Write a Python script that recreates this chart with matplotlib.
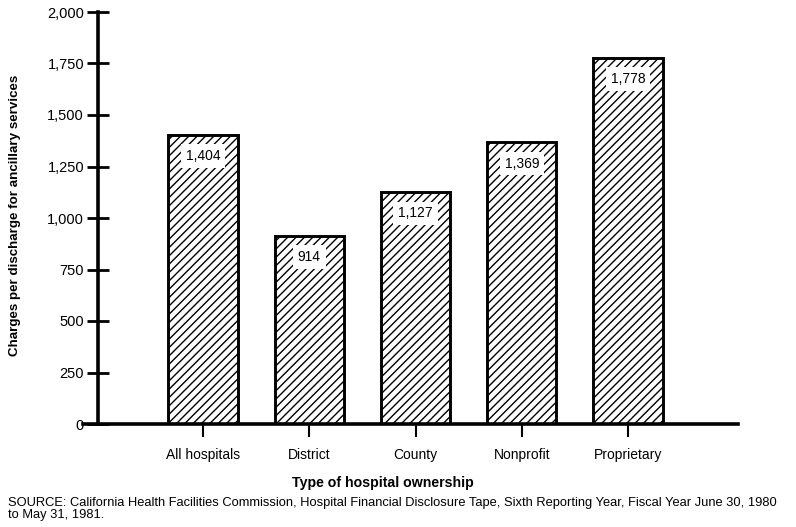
import matplotlib
matplotlib.use("Agg")
import matplotlib.pyplot as plt

categories = ["All hospitals", "District", "County", "Nonprofit", "Proprietary"]
values = [1404, 914, 1127, 1369, 1778]
value_labels = ["1,404", "914", "1,127", "1,369", "1,778"]
yticks = [0, 250, 500, 750, 1000, 1250, 1500, 1750, 2000]
ytick_labels = ["0", "250", "500", "750", "1,000", "1,250", "1,500", "1,750", "2,000"]

plt.rcParams['font.family'] = ['Liberation Sans', 'DejaVu Sans']
plt.rcParams['hatch.linewidth'] = 1.0

W, H = 796, 527
fig = plt.figure(figsize=(W / 100, H / 100), dpi=100)

# pixel geometry
ax_left_px, ax_right_px = 83, 738
y0_px, y2000_px = 424, 12
spacing = 106.25
c0 = 203
xl = 0 - (c0 - ax_left_px) / spacing
xr = 4 + (ax_right_px - (c0 + 4 * spacing)) / spacing
yaxis_data_x = 0 - (c0 - 98) / spacing

ax = fig.add_axes([ax_left_px / W, (H - y0_px) / H,
                   (ax_right_px - ax_left_px) / W, (y0_px - y2000_px) / H])
x = list(range(len(categories)))
ax.bar(x, values, width=0.65, color='white', edgecolor='black',
       linewidth=2.1, hatch='////', zorder=2)
ax.set_xlim(xl, xr)
ax.set_ylim(0, 2000)

for xi, v, lab in zip(x, values, value_labels):
    ax.annotate(lab, xy=(xi, v), xytext=(0, -15.5), textcoords='offset points',
                ha='center', va='center', fontsize=10,
                bbox=dict(boxstyle='square,pad=0.35', fc='white', ec='none'),
                zorder=3)

for s in ['top', 'right']:
    ax.spines[s].set_visible(False)
ax.spines['left'].set_position(('data', yaxis_data_x))
ax.spines['left'].set_linewidth(2.6)
ax.spines['bottom'].set_linewidth(2.6)
ax.spines['left'].set_bounds(0, 2000)

ax.set_yticks(yticks)
ax.set_yticklabels(ytick_labels)
ax.tick_params(axis='y', direction='inout', length=16, width=2, labelsize=10.5, pad=2)
ax.set_xticks(x)
ax.set_xticklabels(categories)
ax.tick_params(axis='x', direction='out', length=9, width=1.5, labelsize=10, pad=8)

fig.text(15 / W, (H - 215) / H, "Charges per discharge for ancillary services",
         rotation=90, ha='center', va='center', fontsize=9.6, fontweight='bold')
fig.text(383 / W, (H - 483) / H, "Type of hospital ownership",
         ha='center', va='center', fontsize=10.2, fontweight='bold')
fig.text(8 / W, (H - 497) / H,
         "SOURCE: California Health Facilities Commission, Hospital Financial Disclosure Tape, Sixth Reporting Year, Fiscal Year June 30, 1980\nto May 31, 1981.",
         ha='left', va='top', fontsize=9.3, linespacing=1.05)

fig.savefig("out.png", dpi=100)
